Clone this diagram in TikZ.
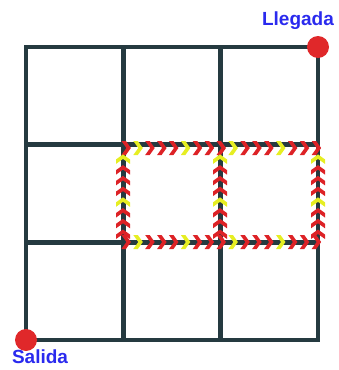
\documentclass[tikz,border=0pt]{standalone}
\usepackage{fontspec}
\setmainfont{Liberation Sans}
\usepackage{tikz}
\definecolor{gridline}{HTML}{253A40}
\definecolor{dotred}{HTML}{E0282A}
\definecolor{chevred}{HTML}{DD2226}
\definecolor{chevyel}{HTML}{E6EE22}
\definecolor{labelblue}{HTML}{2A2AEE}
\tikzset{
  grid line/.style={line width=4.5pt, draw=gridline, line cap=rect},
  endpoint/.style={circle, fill=dotred, minimum size=22pt, inner sep=0pt},
  place label/.style={font=\bfseries\fontsize{19}{19}\selectfont, text=labelblue},
  chev/.pic={\fill (-5.5,-7) -- (-1,-7) -- (4,0) -- (-1,7) -- (-5.5,7) -- (-0.5,0) -- cycle;}
}
\begin{document}
\begin{tikzpicture}[x=1pt, y=-1pt]
\useasboundingbox (0,0) rectangle (338,370);

% grid
\foreach \k in {0,...,3} {
  \draw[grid line] (26+97.33*\k,47) -- (26+97.33*\k,340);
  \draw[grid line] (26,47+97.67*\k) -- (318,47+97.67*\k);
}

% chevron path
\coordinate (ta) at (123,148);
\coordinate (tb) at (318,148);
\coordinate (ba) at (123,242);
\coordinate (bb) at (318,242);
\foreach \s/\e in {ta/tb, ba/bb} {
  \foreach \i in {0,...,16} {
    \pgfmathtruncatemacro{\m}{mod(\i,4)}
    \ifnum\m=1 \colorlet{cc}{chevyel}\else\colorlet{cc}{chevred}\fi
    \path (\s) -- (\e) pic[pos=\i/16.4+0.02, color=cc]{chev};
  }
}
\foreach \x in {123,220,318} {
  \foreach \i in {0,...,7} {
    \pgfmathtruncatemacro{\m}{mod(\i,4)}
    \ifnum\m=0 \colorlet{cc}{chevyel}\else\colorlet{cc}{chevred}\fi
    \path (\x,154) -- (\x,242) pic[pos=\i/8.2+0.05, color=cc, rotate=90]{chev};
  }
}

% start and goal
\node[endpoint] (salida) at (26,340) {};
\node[endpoint] (llegada) at (318,47) {};
\node[place label] (lsal) at (40,357) {Salida};
\node[place label] (lleg) at (298,21) {Llegada};
\end{tikzpicture}
\end{document}
